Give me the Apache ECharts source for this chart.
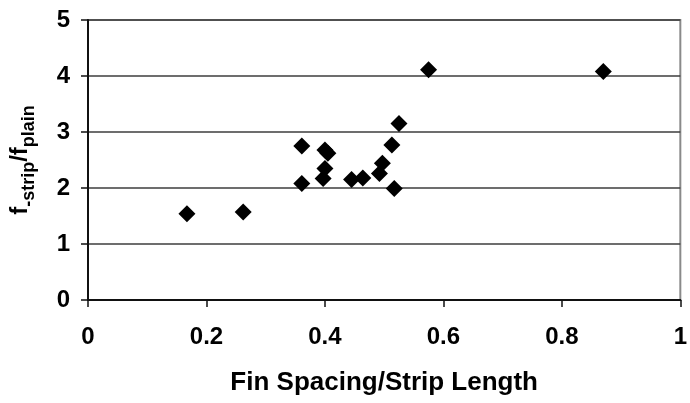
<!DOCTYPE html>
<html>
<head>
<meta charset="utf-8">
<script src="https://cdn.jsdelivr.net/npm/echarts@6/dist/echarts.min.js"></script>
<style>
  html, body { margin: 0; padding: 0; background: #fff; }
  #chart { width: 690px; height: 403px; }
</style>
</head>
<body>
<div id="chart"></div>
<script>
// Fin spacing / strip length ratio for each tested geometry
const spacingRatio = [0.167, 0.262, 0.361, 0.361, 0.400, 0.405, 0.400, 0.397, 0.445, 0.464, 0.492, 0.497, 0.513, 0.517, 0.525, 0.575, 0.870];
// Friction factor of strip fin over plain fin
const frictionRatio = [1.54, 1.57, 2.75, 2.08, 2.68, 2.62, 2.35, 2.17, 2.15, 2.18, 2.26, 2.44, 2.77, 1.99, 3.15, 4.11, 4.08];

const xTicks = [0, 0.2, 0.4, 0.6, 0.8, 1];
const yTicks = [0, 1, 2, 3, 4, 5];

const points = spacingRatio.map((x, i) => [x, frictionRatio[i]]);
const FONT = '"Liberation Sans", Arial, sans-serif';

const chart = echarts.init(document.getElementById('chart'), null, { renderer: 'canvas' });
chart.setOption({
  animation: false,
  backgroundColor: '#ffffff',
  grid: {
    left: 87, right: 4, top: 20, bottom: 103,
    show: true, borderColor: '#8a8a8a', borderWidth: 2
  },
  xAxis: {
    type: 'value',
    min: xTicks[0], max: xTicks[xTicks.length - 1], interval: 0.2,
    name: 'Fin Spacing/Strip Length',
    nameLocation: 'middle', nameGap: 70,
    nameTextStyle: { fontFamily: FONT, fontWeight: 'bold', fontSize: 26, color: '#000' },
    axisLine: { lineStyle: { color: '#111', width: 2 } },
    axisTick: { show: true, inside: false, length: 7, lineStyle: { color: '#111', width: 1.5 } },
    axisLabel: {
      fontFamily: FONT, fontWeight: 'bold', fontSize: 24, color: '#000', margin: 25,
      formatter: v => String(+v.toFixed(1))
    },
    splitLine: { show: false }
  },
  yAxis: {
    type: 'value',
    min: yTicks[0], max: yTicks[yTicks.length - 1], interval: 1,
    name: '{m|f}{s|-strip}{m|/f}{s|plain}',
    nameLocation: 'middle', nameGap: 50, nameRotate: 90,
    nameTextStyle: {
      fontFamily: FONT, fontWeight: 'bold', color: '#000',
      rich: {
        m: { fontFamily: FONT, fontWeight: 'bold', fontSize: 24, color: '#000', lineHeight: 30, verticalAlign: 'top' },
        s: { fontFamily: FONT, fontWeight: 'bold', fontSize: 18, color: '#000', lineHeight: 30, verticalAlign: 'bottom', padding: [10, 0, 0, 0] }
      }
    },
    axisLine: { show: true, lineStyle: { color: '#111', width: 2 } },
    axisTick: { show: true, inside: false, length: 7, lineStyle: { color: '#111', width: 1.5 } },
    axisLabel: { fontFamily: FONT, fontWeight: 'bold', fontSize: 24, color: '#000', margin: 18 },
    splitLine: { show: true, lineStyle: { color: '#3c3c3c', width: 1.5 } }
  },
  series: [{
    type: 'scatter',
    data: points,
    symbol: 'diamond',
    symbolSize: [17, 17],
    itemStyle: { color: '#000', opacity: 1 }
  }]
});
</script>
</body>
</html>
